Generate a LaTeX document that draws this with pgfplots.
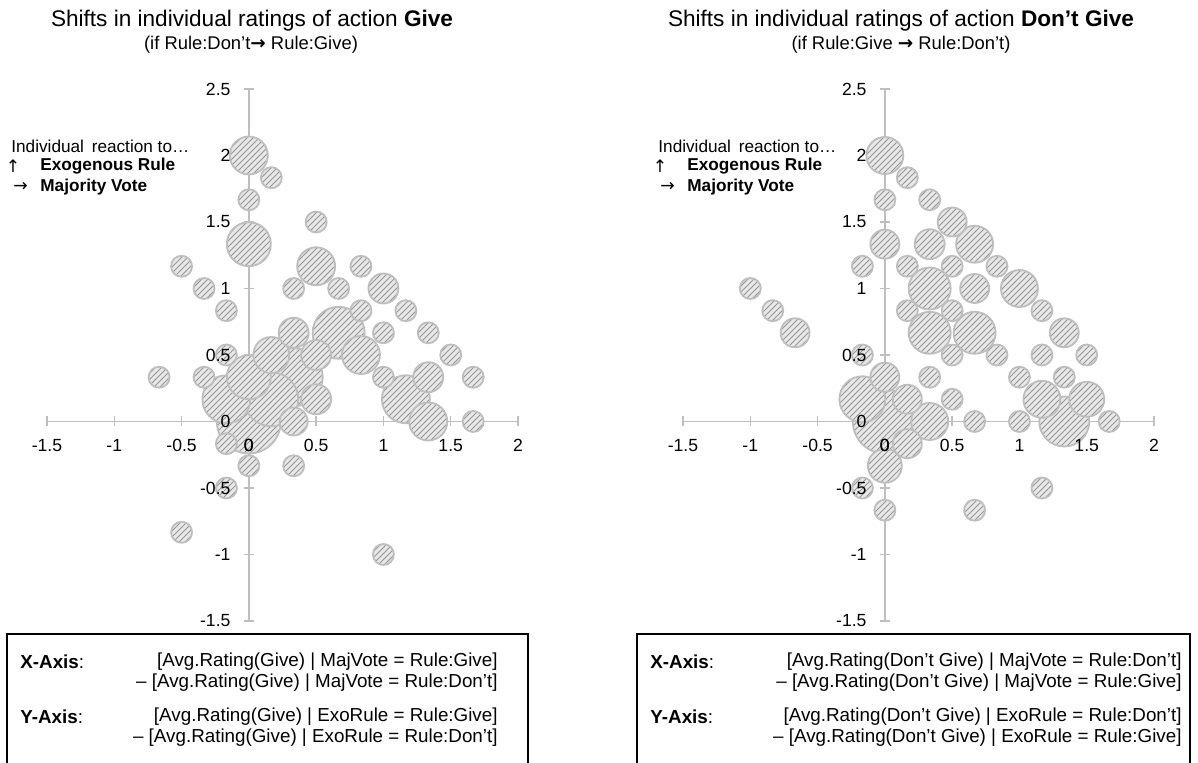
\documentclass[border=0pt]{standalone}
\usepackage{pgfplots}
\pgfplotsset{compat=1.18}
\usepackage{pgfplotstable}
\usepackage{fontspec}
\setmainfont{Liberation Sans}
\newfontfamily\dejavu{DejaVu Sans}
\usetikzlibrary{patterns}

\definecolor{bfill}{RGB}{232,232,232}
\definecolor{bhatch}{RGB}{150,150,150}
\definecolor{bdraw}{RGB}{190,190,190}
\definecolor{axgray}{RGB}{191,191,191}

% radius r in px of the reference (1px = 0.5pt)
\pgfplotstableread{
x y r
0 0 32
0.333 0.333 29
0.167 0.167 27
0.667 0.667 26
-0.167 0.167 24
1.167 0.167 24
0 1.333 22
0 0.333 22
0 2 19
0.5 1.167 19
0.833 0.5 19
1.333 0 19
0.167 0.5 18
1 1 15
0.333 0.667 15
0.5 0.5 15
1.333 0.333 15
0.5 0.167 15
0.333 0 14
0.167 1.833 10.5
0 1.667 10.5
0.5 1.5 10.5
-0.5 1.167 10.5
0.833 1.167 10.5
-0.333 1 10.5
0.333 1 10.5
0.667 1 10.5
-0.167 0.833 10.5
0.833 0.833 10.5
1.167 0.833 10.5
1 0.667 10.5
1.333 0.667 10.5
-0.167 0.5 10.5
1.5 0.5 10.5
-0.667 0.333 10.5
-0.333 0.333 10.5
1 0.333 10.5
1.667 0.333 10.5
1.667 0 10.5
-0.167 -0.167 10.5
0 -0.333 10.5
0.333 -0.333 10.5
-0.167 -0.5 10.5
-0.5 -0.833 10.5
1 -1 10.5
}\leftdata

\pgfplotstableread{
x y r
0 0 32
1.333 0 25
-0.167 0.167 23
0.333 1 21
0.333 0.667 21
0.667 0.667 21
0 2 18.5
0.667 1.333 18.5
1 1 18.5
1.167 0.167 18.5
0.333 0 18.5
1.5 0.167 17.5
0 -0.333 17
0.333 1.333 15
0.5 1.5 14.5
0 1.333 14.5
0.667 1 14.5
-0.667 0.667 14.5
1.333 0.667 14.5
0 0.333 14.5
0.167 0.167 14.5
0.167 -0.167 14.5
0.167 1.833 10.5
0 1.667 10.5
0.333 1.667 10.5
-0.167 1.167 10.5
0.167 1.167 10.5
0.5 1.167 10.5
0.833 1.167 10.5
-1 1 10.5
-0.833 0.833 10.5
0.167 0.833 10.5
0.5 0.833 10.5
1.167 0.833 10.5
-0.167 0.5 10.5
0.5 0.5 10.5
0.833 0.5 10.5
1.167 0.5 10.5
1.5 0.5 10.5
0.333 0.333 10.5
1 0.333 10.5
1.333 0.333 10.5
0.5 0.167 10.5
0.667 0 10.5
1 0 10.5
1.667 0 10.5
-0.167 -0.5 10.5
1.167 -0.5 10.5
0 -0.667 10.5
0.667 -0.667 10.5
}\rightdata

\newcommand\drawbubble[1]{%
  \pgfscope
  \pgfpathcircle{\pgfpointorigin}{#1}%
  \pgfsetfillcolor{bfill}\pgfusepath{fill}%
  \pgfpathcircle{\pgfpointorigin}{#1}%
  \pgfsetfillpattern{north east lines}{bhatch}\pgfusepath{fill}%
  \pgfpathcircle{\pgfpointorigin}{#1}%
  \pgfsetstrokecolor{bdraw}\pgfsetlinewidth{0.9pt}\pgfusepath{stroke}%
  \endpgfscope}

\pgfplotsset{
  baseaxis/.style={
    scale only axis, width=235.5pt, height=266pt,
    xmin=-1.5, xmax=2, ymin=-1.5, ymax=2.5,
    axis lines=middle,
    enlargelimits=false,
    xtick={-1.5,-1,-0.5,0,0.5,1,1.5,2},
    ytick={-1.5,-1,-0.5,0,0.5,1,1.5,2,2.5},
    hide obscured x ticks=false, hide obscured y ticks=false,
    clip=false,
  },
  bubbleaxis/.style={baseaxis,
    axis line style={-, draw=axgray, line width=0.7pt},
    tick align=center, major tick length=5pt,
    tick style={draw=axgray, line width=0.7pt},
    xticklabels={}, yticklabels={},
  },
  labelaxis/.style={baseaxis,
    axis line style={draw=none},
    major tick length=0pt, tick style={draw=none},
    /pgf/number format/assume math mode=true,
    ticklabel style={font=\fontsize{8.8}{10}\selectfont, text=black},
    xticklabel style={anchor=center, yshift=-12pt},
    yticklabel style={anchor=east, inner sep=0pt, xshift=-9pt},
  },
  bubbles/.style={scatter, only marks, mark=*, mark size=0.01pt,
    visualization depends on={\thisrow{r}\as\rad},
    scatter/@pre marker code/.code={},
    scatter/@post marker code/.code={\drawbubble{\rad*0.5pt}}},
}

\begin{document}
\begin{tikzpicture}

\begin{axis}[bubbleaxis, at={(23.5pt,-44.5pt)}, anchor=north west]
\addplot[bubbles] table[x=x,y=y] {\leftdata};
\end{axis}
\begin{axis}[labelaxis, at={(23.5pt,-44.5pt)}, anchor=north west]
\node[font=\fontsize{8.8}{10}\selectfont, yshift=-12pt] at (axis cs:0,0) {0};
\end{axis}

\begin{axis}[bubbleaxis, at={(341.5pt,-44.5pt)}, anchor=north west]
\addplot[bubbles] table[x=x,y=y] {\rightdata};
\end{axis}
\begin{axis}[labelaxis, at={(341.5pt,-44.5pt)}, anchor=north west]
\node[font=\fontsize{8.8}{10}\selectfont, yshift=-12pt] at (axis cs:0,0) {0};
\end{axis}

% titles
\node[font=\fontsize{11.3}{13}\selectfont] at (126pt,-10.5pt) {Shifts in individual ratings of action \textbf{Give}};
\node[font=\fontsize{9.2}{11}\selectfont] at (125.5pt,-22.5pt) {(if Rule:Don’t{\dejavu\bfseries →} Rule:Give)};
\node[font=\fontsize{11.3}{13}\selectfont] at (450.5pt,-10.5pt) {Shifts in individual ratings of action \textbf{Don’t Give}};
\node[font=\fontsize{9.2}{11}\selectfont] at (450.5pt,-22.5pt) {(if Rule:Give {\dejavu\bfseries →} Rule:Don’t)};

% annotations
\foreach \dx in {0pt,323.5pt}{
  \begin{scope}[xshift=\dx]
  \node[anchor=west, inner sep=0pt, font=\fontsize{8.6}{10}\selectfont] at (5.5pt,-73pt) {Individual\hspace{0.45em}reaction to…};
  \node[inner sep=0pt, font=\fontsize{8.6}{10}\selectfont\dejavu] at (6.5pt,-83pt) {↑};
  \node[anchor=west, inner sep=0pt, font=\fontsize{8.6}{10}\selectfont\bfseries] at (20pt,-83pt) {Exogenous Rule};
  \node[inner sep=0pt, font=\fontsize{8.6}{10}\selectfont\dejavu] at (10.25pt,-93.5pt) {→};
  \node[anchor=west, inner sep=0pt, font=\fontsize{8.6}{10}\selectfont\bfseries] at (20pt,-93.5pt) {Majority Vote};
  \end{scope}
}

% boxes
\draw[line width=0.75pt] (3.5pt,-390pt) rectangle (264pt,-317pt);
\draw[line width=0.75pt] (318.5pt,-390pt) rectangle (595pt,-317pt);

\begin{scope}[every node/.style={inner sep=0pt, font=\fontsize{9.4}{11}\selectfont}]
\node[anchor=west] at (10pt,-331pt) {\textbf{X-Axis}:};
\node[anchor=east] at (249pt,-331pt) {[Avg.Rating(Give) | MajVote = Rule:Give]};
\node[anchor=east] at (249pt,-341.5pt) {– [Avg.Rating(Give) | MajVote = Rule:Don’t]};
\node[anchor=west] at (10pt,-358.5pt) {\textbf{Y-Axis}:};
\node[anchor=east] at (249pt,-358.5pt) {[Avg.Rating(Give) | ExoRule = Rule:Give]};
\node[anchor=east] at (249pt,-369pt) {– [Avg.Rating(Give) | ExoRule = Rule:Don’t]};

\node[anchor=west] at (325pt,-331pt) {\textbf{X-Axis}:};
\node[anchor=east] at (591pt,-331pt) {[Avg.Rating(Don’t Give) | MajVote = Rule:Don’t]};
\node[anchor=east] at (591pt,-341.5pt) {– [Avg.Rating(Don’t Give) | MajVote = Rule:Give]};
\node[anchor=west] at (325pt,-358.5pt) {\textbf{Y-Axis}:};
\node[anchor=east] at (591pt,-358.5pt) {[Avg.Rating(Don’t Give) | ExoRule = Rule:Don’t]};
\node[anchor=east] at (591pt,-369pt) {– [Avg.Rating(Don’t Give) | ExoRule = Rule:Give]};
\end{scope}

\pgfresetboundingbox
\path[use as bounding box] (0pt,0pt) rectangle (599pt,-381.5pt);
\end{tikzpicture}
\end{document}
